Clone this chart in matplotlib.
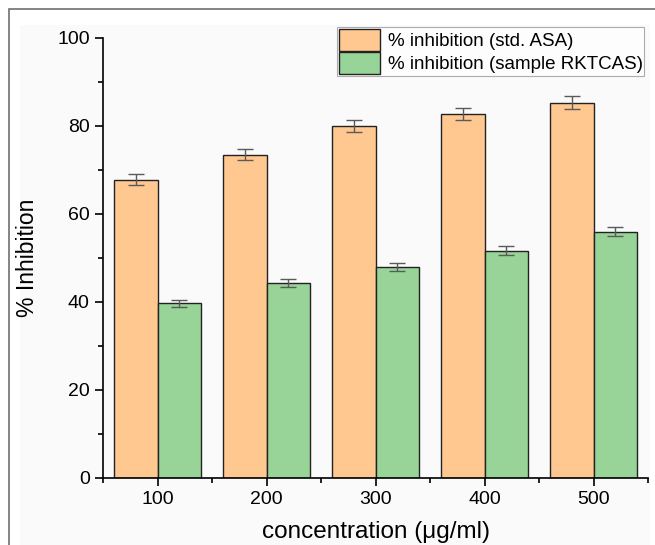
import matplotlib.pyplot as plt
from matplotlib.ticker import MultipleLocator
from matplotlib.patches import Rectangle

concentrations = [100, 200, 300, 400, 500]
asa_values = [67.8, 73.5, 80.0, 82.8, 85.3]
asa_errors = [1.2, 1.3, 1.4, 1.4, 1.5]
sample_values = [39.7, 44.3, 48.0, 51.7, 56.0]
sample_errors = [0.8, 0.9, 0.9, 1.0, 1.0]

plt.rcParams['font.family'] = ['Liberation Sans', 'DejaVu Sans']

fig = plt.figure(figsize=(6.55, 5.45), dpi=100)
# outer frame and light panel like the original export
fig.patches.append(Rectangle((9 / 655, -0.1), 1.2, (536 / 545) + 0.1, transform=fig.transFigure,
                             facecolor='white', edgecolor='#707070', lw=1.2, zorder=-2))
fig.patches.append(Rectangle((20 / 655, 0), (630 / 655), 1 - 25 / 545, transform=fig.transFigure,
                             facecolor='#fafafa', edgecolor='none', zorder=-1))

ax = fig.add_axes([103 / 655, 1 - 478 / 545, 545 / 655, 440 / 545])
ax.set_zorder(2)
ax.patch.set_alpha(0)

w = 40
x_asa = [c - w / 2 for c in concentrations]
x_sample = [c + w / 2 for c in concentrations]
ax.bar(x_asa, asa_values, width=w, color='#ffc891', edgecolor='#222222', lw=1.0,
       label='% inhibition (std. ASA)', yerr=asa_errors,
       error_kw=dict(ecolor='#5a5a5a', elinewidth=1, capsize=6, capthick=1))
ax.bar(x_sample, sample_values, width=w, color='#98d498', edgecolor='#222222', lw=1.0,
       label='% inhibition (sample RKTCAS)', yerr=sample_errors,
       error_kw=dict(ecolor='#5a5a5a', elinewidth=1, capsize=6, capthick=1))

ax.set_xlim(50, 550)
ax.set_ylim(0, 100)
ax.set_xticks(concentrations)
ax.xaxis.set_minor_locator(MultipleLocator(50))
ax.yaxis.set_major_locator(MultipleLocator(20))
ax.yaxis.set_minor_locator(MultipleLocator(10))
ax.tick_params(axis='both', which='major', direction='out', length=6, width=1.2, labelsize=14)
ax.tick_params(axis='both', which='minor', direction='out', length=3.5, width=1.2)
for side in ['top', 'right']:
    ax.spines[side].set_visible(False)
for side in ['left', 'bottom']:
    ax.spines[side].set_linewidth(1.2)

ax.set_xlabel('concentration (μg/ml)', fontsize=17.5, labelpad=9)
ax.set_ylabel('% Inhibition', fontsize=16.5, labelpad=13)

leg = ax.legend(loc='upper right', bbox_to_anchor=(0.997, 1.03), fontsize=13.5, frameon=True,
                fancybox=False, edgecolor='#999999', borderpad=0.1, handlelength=2.2,
                handleheight=1.45, handletextpad=0.4, labelspacing=0.05, borderaxespad=0.1)
leg.get_frame().set_linewidth(0.8)

fig.savefig('out.png', dpi=100)
